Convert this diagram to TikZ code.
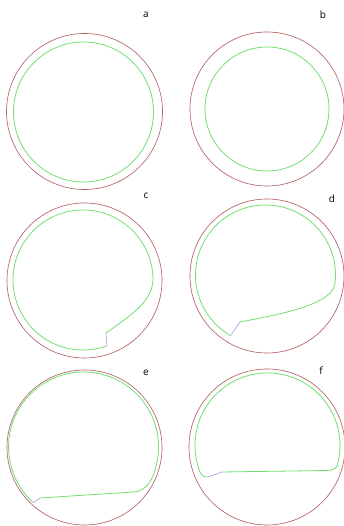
\documentclass[tikz,border=0pt]{standalone}
\usepackage{fontspec}
\setmainfont{Open Sans}
\usepackage{xcolor}
\usepackage{tikz}
\definecolor{ringred}{RGB}{178,98,98}
\definecolor{cellgreen}{RGB}{112,222,112}
\definecolor{kinkblue}{RGB}{155,155,225}

\begin{document}
\begin{tikzpicture}[x=1pt, y=1pt,
  ring/.style={draw=ringred, line width=.65pt},
  cell/.style={draw=cellgreen, line width=.8pt, line join=round},
  kink/.style={draw=kinkblue, line width=.6pt},
  tag/.style={font=\fontsize{10}{12}\selectfont, inner sep=0pt}
]
\useasboundingbox (0,0) rectangle (344,526);
\coordinate (oa) at (84.5,414.5);
\coordinate (ob) at (267,417);
\coordinate (oc) at (84.5,245.5);
\coordinate (od) at (267,250);
\coordinate (oe) at (84.5,78.5);
\coordinate (of) at (267,79);
\foreach \o/\r in {oa/78,ob/77,oc/77.5,od/77,oe/77.5,of/78}{\draw[ring] (\o) circle[radius=\r];}
\node[tag] (la) at (146,511) {a};
\node[tag] (lb) at (323,511) {b};
\node[tag] (lc) at (146,330) {c};
\node[tag] (ld) at (332,327) {d};
\node[tag] (le) at (146,153) {e};
\node[tag] (lf) at (321,155) {f};
\draw[cell] (83.5,414) circle[radius=70];
\draw[cell] (ob) circle[radius=62];
\draw[cell] (106,193) coordinate (cs) .. controls (135,213) and (152,226) .. (153,246) arc[start angle=0, end angle=290, radius=70] coordinate (ce);
\draw[kink] (ce) -- (cs);
\draw[cell] (240,204) coordinate (ds) .. controls (282,212) and (336,222) .. (335.2,244.9) arc[start angle=-5, end angle=240, radius=70] coordinate (de);
\draw[kink] (de) -- (ds);
\draw[cell] (40,28) coordinate (es) -- (133,34) .. controls (149,35) and (154,50) .. (156.9,63.4) arc[start angle=-12, end angle=228, radius=75] coordinate (ee);
\draw[kink] (ee) -- (es);
\draw[cell] (222,54) coordinate (fs) -- (327,55.5) .. controls (335,56) and (337.5,58.5) .. (337.8,63) arc[start angle=-14, end angle=202, radius=72.5] .. controls (201.5,50.3) and (204,49) .. (208,49) coordinate (fe);
\draw[kink] (fe) -- (fs);
\end{tikzpicture}
\end{document}
